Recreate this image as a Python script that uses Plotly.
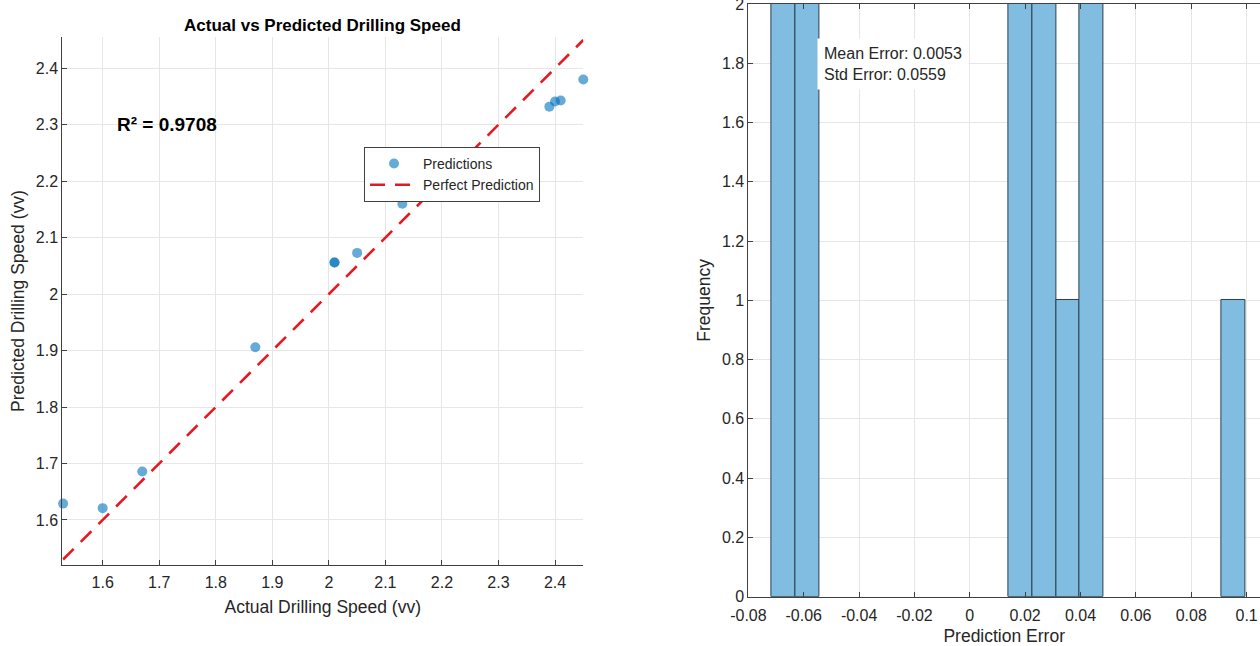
import plotly.graph_objects as go

# ---- data ----
actual = [1.53, 1.60, 1.67, 1.87, 2.01, 2.01, 2.05, 2.13, 2.39, 2.40, 2.41, 2.45]
predicted = [1.629, 1.621, 1.686, 1.906, 2.056, 2.056, 2.073, 2.160, 2.332, 2.341, 2.343, 2.380]
errors = [p - a for p, a in zip(predicted, actual)]
perfect_line = [min(actual), max(actual)]

r2_label = "0.9708"
mean_label = "0.0053"
std_label = "0.0559"

left_ticks = [1.6, 1.7, 1.8, 1.9, 2.0, 2.1, 2.2, 2.3, 2.4]
left_ticktext = ["1.6", "1.7", "1.8", "1.9", "2", "2.1", "2.2", "2.3", "2.4"]
err_ticks = [-0.08, -0.06, -0.04, -0.02, 0, 0.02, 0.04, 0.06, 0.08, 0.1]
err_ticktext = ["-0.08", "-0.06", "-0.04", "-0.02", "0", "0.02", "0.04", "0.06", "0.08", "0.1"]
freq_ticks = [0, 0.2, 0.4, 0.6, 0.8, 1, 1.2, 1.4, 1.6, 1.8, 2]
freq_ticktext = ["0", "0.2", "0.4", "0.6", "0.8", "1", "1.2", "1.4", "1.6", "1.8", "2"]

FONT = "Liberation Sans, Arial, Helvetica, sans-serif"
AX = "#404040"
TXT = "#262626"
GRID = "#e6e6e6"

fig = go.Figure()

fig.add_trace(go.Scatter(
    x=actual, y=predicted, mode="markers", name="Predictions",
    marker=dict(size=10, color="rgba(0,114,189,0.6)", line=dict(width=0)),
    cliponaxis=False, xaxis="x", yaxis="y",
))
fig.add_trace(go.Scatter(
    x=perfect_line, y=perfect_line, mode="lines", name="Perfect Prediction",
    line=dict(color="rgb(228,26,34)", width=2.6, dash="15px,10px"),
    xaxis="x", yaxis="y",
))
fig.add_trace(go.Histogram(
    x=errors, xbins=dict(start=-0.0716, end=0.0996, size=0.00856),
    marker=dict(color="#80bde0", line=dict(color="#2b3f4f", width=1)),
    showlegend=False, xaxis="x2", yaxis="y2",
))

common = dict(
    showline=True, linecolor=AX, linewidth=1, automargin=False,
    ticks="inside", ticklen=5, tickcolor=AX, tickwidth=1,
    showgrid=True, gridcolor=GRID, gridwidth=1, zeroline=False,
    ticklabeloverflow="allow",
    tickfont=dict(size=16, color=TXT, family=FONT),
)

fig.update_layout(
    width=1260, height=646,
    margin=dict(l=0, r=0, t=0, b=0, pad=0, autoexpand=False),
    paper_bgcolor="white", plot_bgcolor="white",
    font=dict(family=FONT, color=TXT),
    bargap=0,
    xaxis=dict(domain=[0.04944, 0.46294], range=[1.5286, 2.45], anchor="y",
               tickmode="array", tickvals=left_ticks, ticktext=left_ticktext,
               ticklabelstandoff=3,
               title=dict(text="Actual Drilling Speed (vv)", font=dict(size=17.5), standoff=10),
               **common),
    yaxis=dict(domain=[0.12539, 0.94241], range=[1.5203, 2.455], anchor="x",
               tickmode="array", tickvals=left_ticks, ticktext=left_ticktext,
               title=dict(text="Predicted Drilling Speed (vv)", font=dict(size=17.5), standoff=6),
               **common),
    xaxis2=dict(domain=[0.59397, 1.0], range=[-0.08, 0.10484], anchor="y2",
                mirror="ticks",
                tickmode="array", tickvals=err_ticks, ticktext=err_ticktext,
                ticklabelstandoff=4,
                title=dict(text="Prediction Error", font=dict(size=17.5), standoff=15),
                **common),
    yaxis2=dict(domain=[0.07632, 0.99381], range=[0, 2], anchor="x2",
                tickmode="array", tickvals=freq_ticks, ticktext=freq_ticktext,
                title=dict(text="Frequency", font=dict(size=17.5), standoff=6),
                **common),
    legend=dict(x=0.2889, y=0.7725, xanchor="left", yanchor="top",
                bgcolor="white", bordercolor=AX, borderwidth=1,
                font=dict(size=14, color=TXT, family=FONT), itemwidth=48,
                tracegroupgap=0),
    annotations=[
        dict(text="<b>Actual vs Predicted Drilling Speed</b>", xref="paper", yref="paper",
             x=0.2562, y=0.9613, xanchor="center", yanchor="middle", showarrow=False,
             font=dict(size=17, color="black", family=FONT)),
        dict(text="<b>R² = " + r2_label + "</b>", xref="x", yref="y",
             x=1.622, y=2.301, xanchor="left", yanchor="middle", showarrow=False,
             font=dict(size=19, color="black", family=FONT)),
        dict(text="Mean Error: " + mean_label + "<br>Std Error: " + std_label,
             xref="x2", yref="y2", x=-0.05507, y=1.886, xanchor="left", yanchor="top",
             align="left", showarrow=False, bgcolor="white", borderpad=6,
             font=dict(size=16, color=TXT, family=FONT)),
    ],
)

fig.write_html(
    "out.html",
    config={"displayModeBar": False},
    post_script="document.body.style.margin='0';document.body.style.overflow='hidden';",
)
